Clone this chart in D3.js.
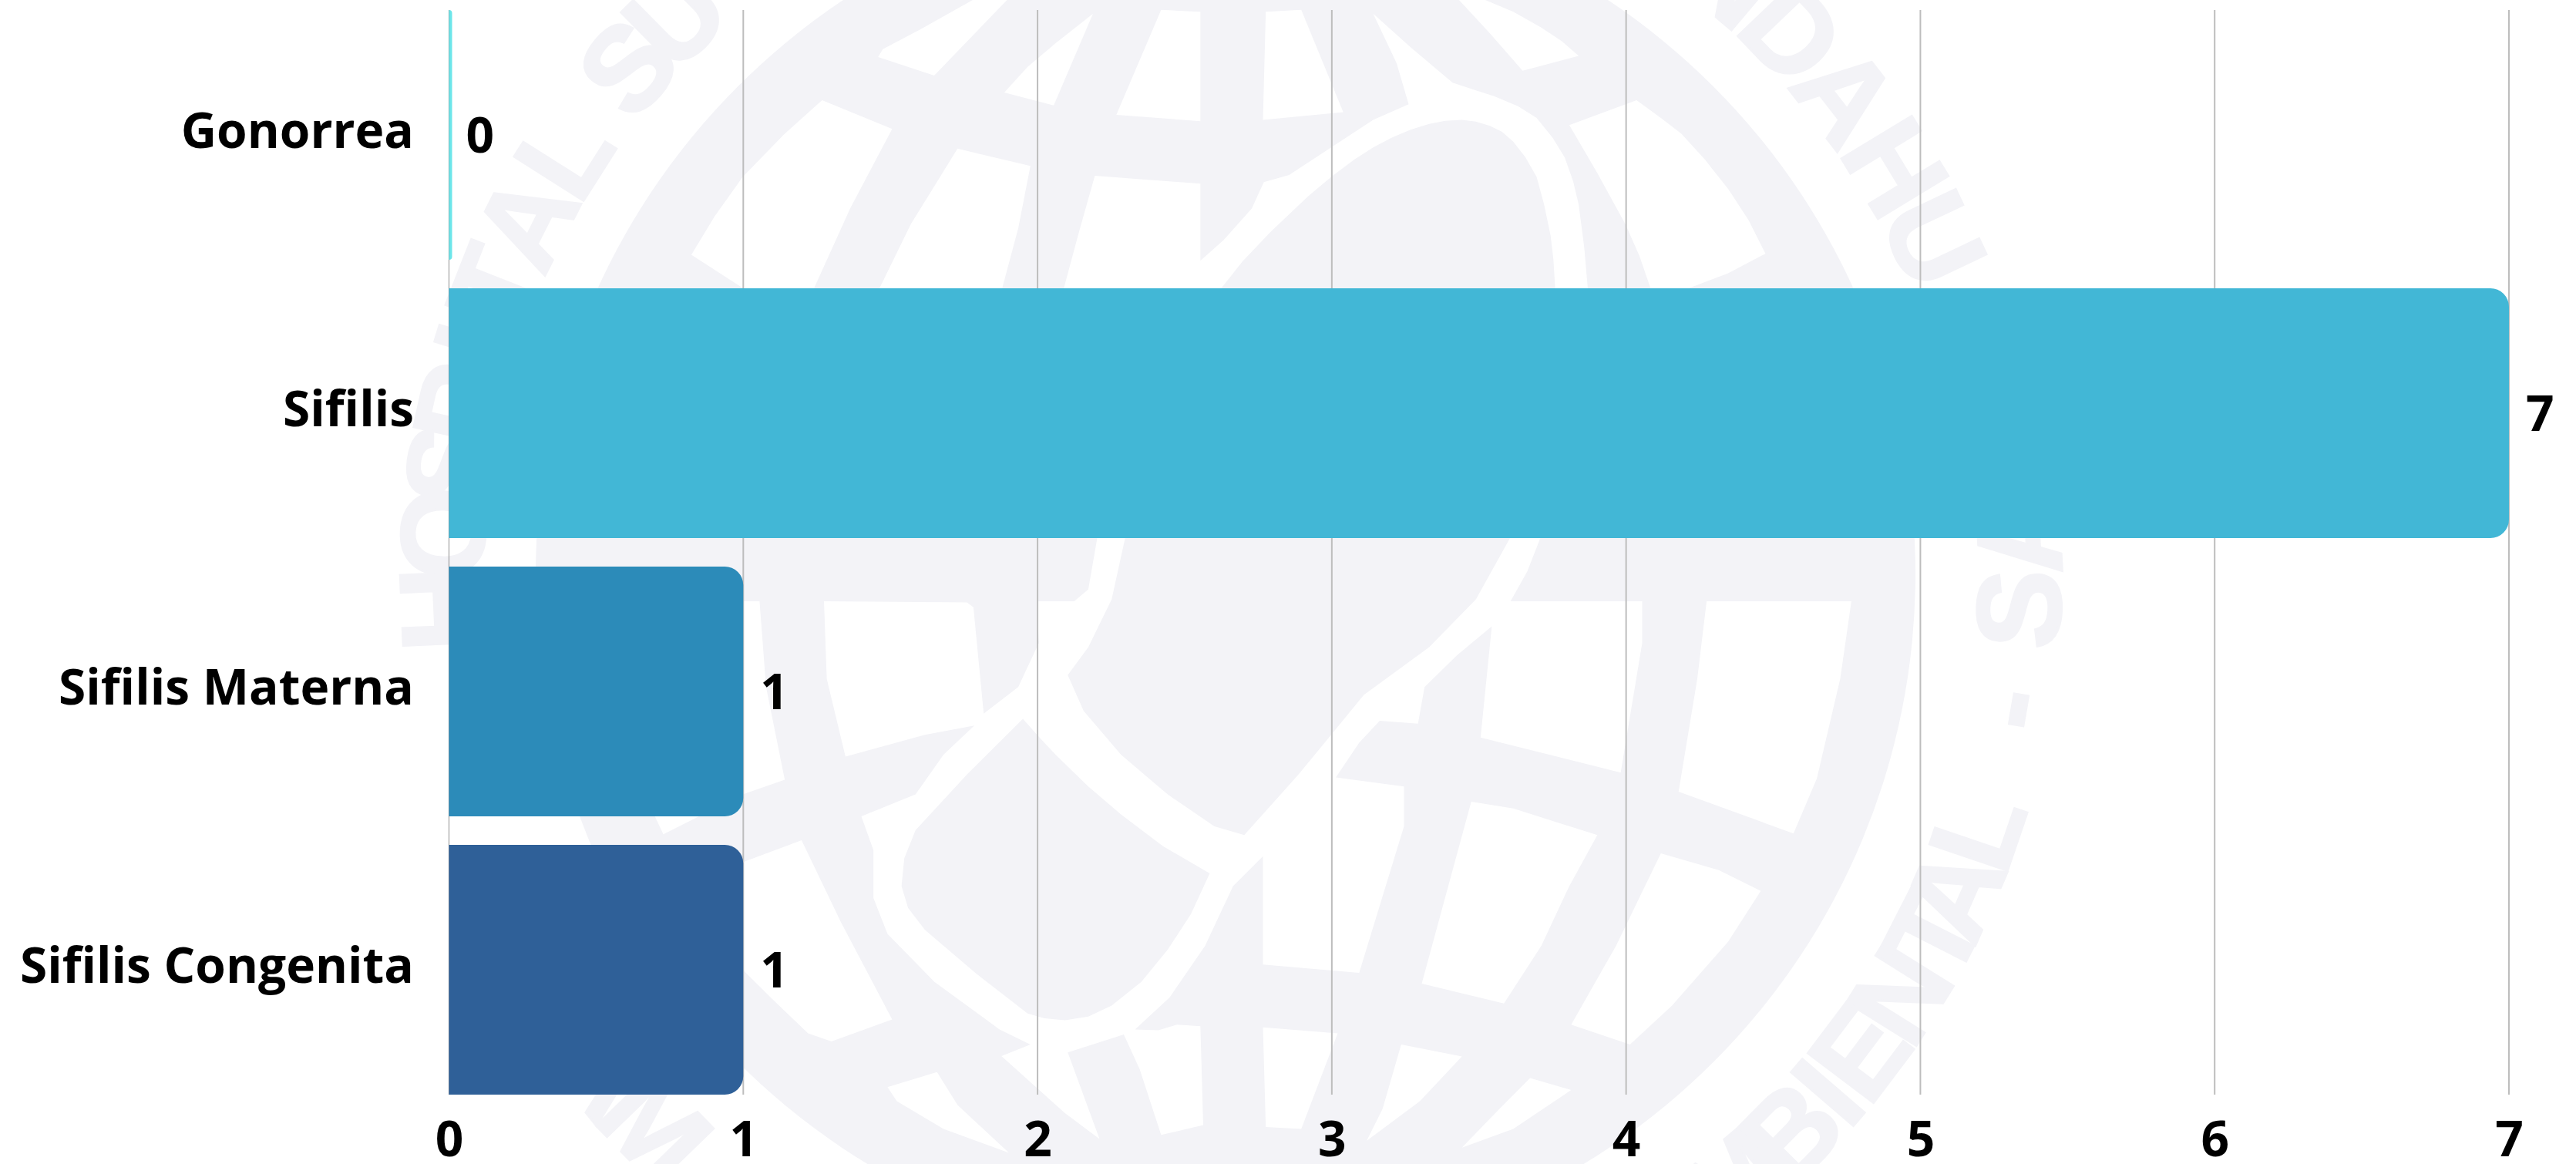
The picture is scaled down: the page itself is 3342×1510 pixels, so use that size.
<!DOCTYPE html>
<html><head><meta charset="utf-8">
<script src="https://cdnjs.cloudflare.com/ajax/libs/d3/7.8.5/d3.min.js"></script>
<style>html,body{margin:0;padding:0;background:#fff}svg{display:block}text{font-family:"Open Sans",sans-serif;font-weight:700;fill:#000}</style>
</head><body>
<svg id="c" width="3342" height="1510"></svg>
<script>
// ---------- chart data ----------
const categories = ["Gonorrea", "Sifilis", "Sifilis Materna", "Sifilis Congenita"];
const values = [0, 7, 1, 1];
const barColors = ["#6CE6EA", "#42B7D6", "#2C8BB9", "#2F6098"];
const xTicks = [0, 1, 2, 3, 4, 5, 6, 7];

const topCells = [
 [[385,-5],[325,75],[285,125],[280,145],[340,192],[420,-5]],
 [[220,255],[295,328],[250,530],[210,740],[140,740],[80,648],[105,550],[135,450],[180,340]],
 [[365,378],[443,422],[430,580],[412,740],[280,740],[315,570]],
 [[510,35],[468,268],[415,235],[440,170],[470,110]],
 [[583,25],[625,30],[625,308],[535,292]],
 [[695,30],[733,25],[778,285],[692,305]],
 [[512,447],[625,467],[625,663],[650,610],[680,530],[693,463],[720,445],[765,375],[810,305],[848,265],[835,160],[810,35],[850,120],[895,210],[920,230],[940,245],[965,270],[985,300],[1002,350],[1015,400],[1024,460],[1030,520],[1036,630],[1040,740],[1005,740],[1003,660],[1000,600],[993,520],[985,450],[973,400],[960,360],[948,335],[935,320],[920,309],[905,305],[887,307],[870,315],[850,330],[830,350],[810,375],[790,405],[765,450],[740,500],[700,590],[670,665],[645,740],[478,740],[495,590]],
 [[900,-5],[935,85],[970,180],[1030,142],[1012,105],[990,70],[960,30],[925,-5]],
 [[1020,318],[1092,255],[1118,300],[1140,340],[1165,405],[1190,480],[1212,560],[1230,645],[1190,695],[1140,740],[1108,740],[1095,650],[1080,570],[1050,440]]
];
const bottomCells = [
 [[222,155],[375,158],[382,170],[393,437],[430,370],[452,260],[450,155],[490,155],[505,125],[515,-10],[545,-10],[530,150],[505,270],[483,340],[500,430],[540,540],[590,640],[640,720],[672,742],[730,590],[765,490],[800,390],[870,270],[920,150],[958,-10],[990,-10],[975,80],[957,155],[1098,155],[1098,260],[1075,585],[925,497],[937,218],[900,290],[865,370],[858,462],[817,455],[795,510],[770,597],[843,620],[843,720],[795,1088],[692,1067],[692,795],[660,870],[630,1020],[592,1150],[555,1230],[580,1232],[600,1218],[625,1222],[628,1470],[583,1495],[560,1330],[543,1243],[483,1288],[517,1505],[480,1440],[412,1297],[443,1268],[410,1230],[340,1110],[290,990],[275,900],[275,780],[262,695],[320,640],[350,540],[383,467],[330,490],[245,545],[225,350]],
 [[40,690],[50,740],[135,640],[180,603],[160,370],[153,155],[40,155]],
 [[198,755],[240,960],[295,1205],[230,1260],[205,1240],[165,1150],[135,1080],[60,1000],[60,880],[135,810]],
 [[290,1375],[343,1337],[365,1420],[420,1540],[350,1480],[300,1410]],
 [[840,1268],[905,1298],[860,1410],[803,1510],[820,1430]],
 [[692,1225],[772,1240],[733,1480],[695,1475]],
 [[978,1352],[1022,1382],[960,1480],[905,1527],[945,1430]],
 [[915,658],[960,675],[1050,742],[1020,870],[990,1020],[950,1165],[862,1115]],
 [[1118,788],[1180,830],[1225,882],[1190,1010],[1130,1170],[1085,1268],[1022,1218],[1070,1020]],
 [[1167,155],[1322,155],[1310,350],[1285,600],[1260,738],[1137,633],[1157,350]]
];
const lobe = [[435,450],[452,495],[470,540],[505,620],[540,690],[585,770],[635,838],[615,940],[590,1030],[562,1110],[530,1170],[505,1198],[480,1207],[458,1202],[440,1190],[385,1090],[330,980],[312,925],[305,870],[308,800],[320,730],[375,590]];
const topLetters = ["H","O","S","P","I","T","A","L","S","U","N","D","A","H","U"];
const topAngles = [-92.5,-87,-82,-77.5,-73,-68.5,-63.2,-57.6,-49.7,-44.6,40.2,46.3,52.3,58.7,64.7];
const bottomLetters = ["E","A","M","M","B","I","E","N","T","A","L","-","S","A"];
const bottomAngles = [-57,-51.5,-45.9,40,45.4,49.3,53,58.1,63,66.4,71.2,80.3,87.5,93];

// ---------- layout ----------
const W = 3342, H = 1510;
const svg = d3.select("#c").attr("viewBox", [0,0,W,H]);
const x = d3.scaleLinear().domain([0,7]).range([582.5,3255]);
const step = 361, top0 = 13;
const y = d3.scaleBand().domain(categories)
  .range([top0-18.5, top0-18.5+4*step]).paddingInner(0.1025).paddingOuter(0.05125);
const gridTop = top0, gridBottom = top0+1407;

// ---------- watermark ----------
const WM = "#F3F3F7", cx = 1590, cy = 745;
const wm = svg.append("g").attr("class","watermark");
wm.append("circle").attr("cx",cx).attr("cy",cy).attr("r",895).attr("fill",WM);
const kx = 1900/1568, kyT = 800/1568, kyB = 810/1568;
const lineT = d3.line().x(d=>800+d[0]*kx).y(d=>d[1]*kyT);
const lineB = d3.line().x(d=>800+d[0]*kx).y(d=>700+d[1]*kyB);
wm.selectAll("path.t").data(topCells).join("path").attr("class","t").attr("d",d=>lineT(d)+"Z").attr("fill","#fff");
wm.selectAll("path.b").data(bottomCells).join("path").attr("class","b").attr("d",d=>lineB(d)+"Z").attr("fill","#fff");
wm.append("path").attr("d",lineB(lobe)+"Z").attr("fill",WM);
const rad = a=>a*Math.PI/180;
const letterStyle = s=>s.attr("text-anchor","middle").style("font-family","'Liberation Sans',sans-serif")
   .style("font-size","155px").style("font-weight","700").style("fill",WM)
   .style("stroke",WM).style("stroke-width","3px");
wm.selectAll("text.tl").data(topLetters).join("text").attr("class","tl").text(d=>d).call(letterStyle)
  .attr("transform",(d,i)=>{const a=topAngles[i];return `translate(${cx+963*Math.sin(rad(a))},${cy-963*Math.cos(rad(a))}) rotate(${a})`;});
wm.selectAll("text.bl").data(bottomLetters).join("text").attr("class","bl").text(d=>d).call(letterStyle)
  .attr("transform",(d,i)=>{const a=bottomAngles[i];return `translate(${cx+1084*Math.sin(rad(a))},${cy+1084*Math.cos(rad(a))}) rotate(${-a})`;});

// ---------- grid ----------
svg.append("g").selectAll("line").data(xTicks).join("line")
  .attr("x1",d=>x(d)).attr("x2",d=>x(d)).attr("y1",gridTop).attr("y2",gridBottom)
  .attr("stroke",d=>d===0?"#8f8f8f":"#BDBDBD").attr("stroke-width",d=>d===0?1:2);

// ---------- bars ----------
const minW = 4, R = 24;
function barPath(v,cat){
  const x0=x(0), w=Math.max(x(v)-x0,minW), t=y(cat), b=t+y.bandwidth(), r=Math.min(R,w), p=d3.path();
  p.moveTo(x0,t); p.lineTo(x0+w-r,t); p.arcTo(x0+w,t,x0+w,t+r,r);
  p.lineTo(x0+w,b-r); p.arcTo(x0+w,b,x0+w-r,b,r); p.lineTo(x0,b); p.closePath();
  return p.toString();
}
svg.append("g").selectAll("path").data(categories).join("path")
  .attr("d",(c,i)=>barPath(values[i],c)).attr("fill",(c,i)=>barColors[i]);

// ---------- value labels ----------
svg.append("g").selectAll("text").data(categories).join("text")
  .attr("x",(c,i)=>x(values[i])+22).attr("y",c=>y(c)+y.bandwidth()/2+23)
  .style("font-size","64px").text((c,i)=>values[i]);

// ---------- category axis ----------
const yAxis = d3.axisLeft(y).tickSize(0).tickPadding(0);
const gy = svg.append("g").attr("transform","translate(537,0)").call(yAxis);
gy.select(".domain").remove();
gy.selectAll("text").attr("dy",null).attr("y",17).attr("fill","#000")
  .style("font-size","64px").style("font-family",'"Open Sans",sans-serif').style("font-weight","700");

// ---------- value axis ----------
const xAxis = d3.axisBottom(x).tickValues(xTicks).tickFormat(d3.format("d")).tickSize(0).tickPadding(0);
const gx = svg.append("g").attr("transform","translate(0,1500)").call(xAxis);
gx.select(".domain").remove();
gx.selectAll("text").attr("dy",null).attr("y",0).attr("fill","#000")
  .style("font-size","64px").style("font-family",'"Open Sans",sans-serif').style("font-weight","700");
</script>
</body></html>
